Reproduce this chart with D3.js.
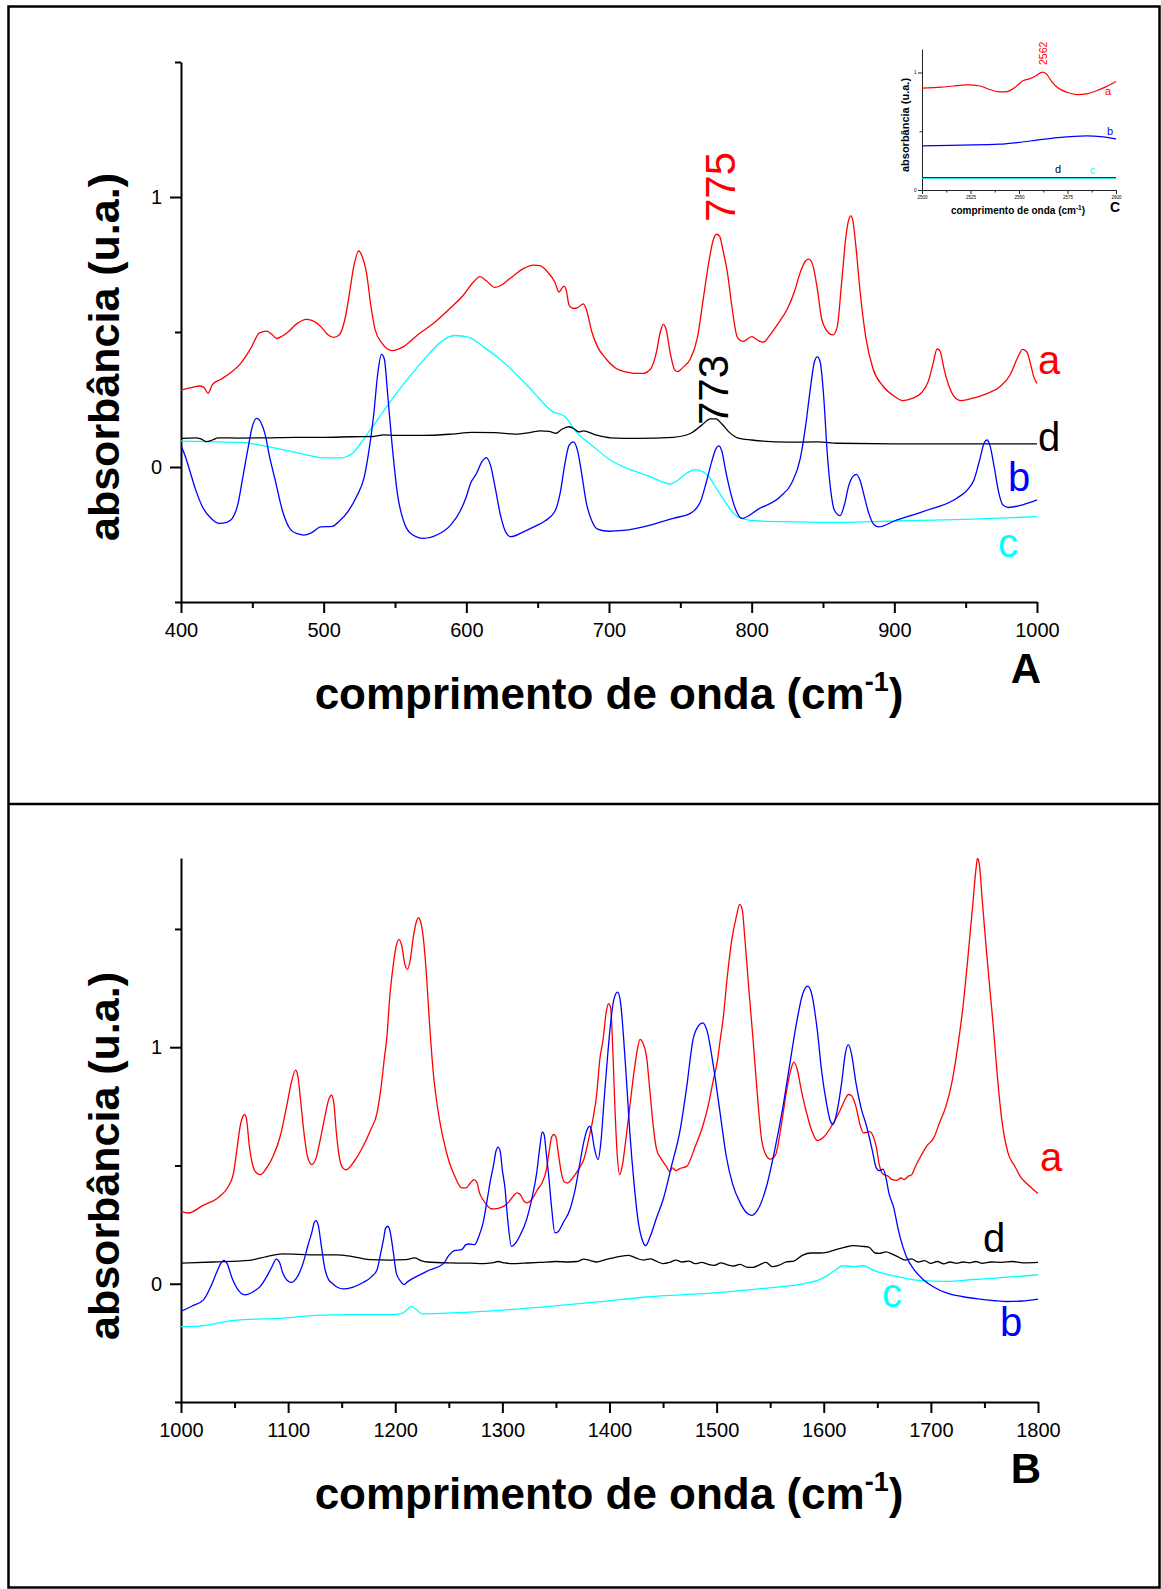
<!DOCTYPE html>
<html>
<head>
<meta charset="utf-8">
<script src="https://cdn.jsdelivr.net/npm/d3@7"></script>
<style>
  body { margin: 0; background: #fff; }
  svg { display: block; }
  text { font-family: "Liberation Sans", Arial, sans-serif; }
</style>
</head>
<body>
<svg id="fig" width="1161" height="1589"></svg>
<script>
// ---------- Panel A: 400–1000 cm-1, spectra as [wavenumber, absorbance] ----------
const specA_a = [[400,0.285],[408,0.295],[413,0.30],[416,0.295],[419,0.273],[422,0.305],[428,0.325],[435,0.35],[442,0.385],[449,0.44],[455,0.497],[460,0.503],[464,0.49],[467,0.476],[471,0.485],[475,0.50],[481,0.53],[488,0.547],[493,0.54],[498,0.52],[503,0.49],[507,0.48],[511,0.49],[515,0.55],[518,0.64],[521,0.74],[524.5,0.80],[527,0.78],[530,0.72],[533,0.60],[536,0.51],[541,0.458],[548,0.431],[556,0.446],[566,0.49],[577,0.532],[588,0.585],[598,0.637],[605,0.685],[609.5,0.705],[614,0.69],[620,0.665],[625,0.675],[631,0.70],[640,0.735],[647,0.748],[652,0.745],[657,0.722],[662,0.685],[665,0.648],[667,0.662],[668.5,0.67],[670,0.655],[672,0.60],[675,0.587],[678,0.59],[682,0.604],[684,0.585],[688,0.50],[692,0.445],[698,0.40],[705,0.365],[712,0.352],[717,0.347],[724,0.347],[729,0.362],[733,0.42],[736,0.50],[738,0.528],[740,0.51],[743,0.42],[746,0.36],[748,0.353],[752,0.37],[757,0.40],[762,0.48],[766,0.62],[770,0.76],[773,0.84],[775.5,0.862],[777.5,0.855],[780,0.80],[783,0.72],[786,0.60],[790,0.48],[794,0.465],[800,0.483],[805,0.467],[808,0.462],[813,0.49],[819,0.535],[825,0.585],[830,0.65],[834,0.72],[838,0.765],[840,0.77],[843,0.745],[846,0.66],[849,0.55],[852,0.51],[857,0.489],[860,0.52],[863,0.68],[866,0.85],[868,0.915],[869.5,0.93],[871,0.91],[873,0.82],[876,0.65],[880,0.48],[885,0.365],[892,0.30],[900,0.262],[906,0.246],[913,0.255],[919,0.275],[924,0.32],[927,0.38],[930,0.437],[932,0.43],[935,0.36],[939,0.29],[943,0.255],[947,0.246],[955,0.255],[965,0.272],[974,0.297],[981,0.34],[986,0.40],[990,0.436],[993,0.425],[996,0.37],[998,0.33],[1000,0.31]];

const specA_b = [[400,0.08],[403,0.04],[406,-0.011],[410,-0.08],[415,-0.147],[421,-0.19],[427,-0.209],[432,-0.205],[436,-0.19],[440,-0.135],[443,-0.048],[447,0.07],[450,0.15],[453,0.18],[456,0.165],[459,0.12],[462,0.04],[466,-0.048],[471,-0.16],[477,-0.233],[482,-0.248],[486,-0.252],[491,-0.245],[498,-0.222],[506,-0.22],[511,-0.2],[517,-0.165],[523,-0.11],[528.5,-0.036],[532,0.07],[535,0.19],[538,0.35],[540.5,0.417],[542.5,0.40],[545,0.26],[548,0.08],[552,-0.11],[556,-0.2],[561,-0.246],[570,-0.264],[580,-0.25],[589,-0.215],[596,-0.16],[600,-0.11],[603,-0.06],[607,-0.025],[611,0.02],[614,0.035],[617,0.005],[620,-0.07],[624,-0.18],[628,-0.245],[631,-0.258],[640,-0.24],[648,-0.22],[655,-0.2],[662,-0.165],[666,-0.09],[669,0.01],[672,0.08],[675,0.093],[678,0.06],[681,-0.03],[684,-0.13],[688,-0.2],[692,-0.23],[700,-0.238],[710,-0.235],[729,-0.215],[745,-0.19],[757,-0.172],[764,-0.13],[768,-0.06],[772,0.02],[775,0.068],[777,0.078],[779,0.06],[782,-0.02],[785,-0.09],[789,-0.16],[793,-0.19],[805,-0.155],[820,-0.11],[828,-0.06],[834,0.03],[838,0.16],[841,0.285],[844,0.39],[846,0.408],[848,0.39],[850.5,0.26],[853,0.05],[855.5,-0.09],[858,-0.16],[862,-0.18],[865,-0.14],[868,-0.07],[871,-0.035],[873.5,-0.027],[876,-0.05],[879,-0.11],[882,-0.17],[886,-0.215],[889,-0.222],[900,-0.2],[920,-0.165],[944,-0.115],[952,-0.08],[956,-0.045],[960,0.03],[963,0.09],[965,0.1],[967,0.08],[970,0.0],[973,-0.09],[976,-0.14],[980,-0.15],[990,-0.14],[1000,-0.122]];

const specA_c = [[400,0.096],[420,0.094],[443,0.091],[460,0.076],[481,0.053],[500,0.034],[512,0.034],[520,0.05],[526,0.088],[533,0.14],[541,0.2],[552,0.28],[564,0.359],[574,0.42],[581,0.458],[587,0.48],[592,0.487],[602,0.48],[612,0.445],[623,0.402],[639,0.322],[650,0.26],[656,0.225],[661,0.203],[666,0.195],[669,0.187],[673,0.16],[677,0.131],[688,0.08],[701,0.026],[715,-0.01],[729,-0.036],[737,-0.055],[742.5,-0.063],[748,-0.05],[754,-0.025],[760,-0.011],[765,-0.015],[770,-0.036],[776,-0.085],[782,-0.134],[788,-0.175],[794,-0.192],[805,-0.2],[830,-0.203],[862,-0.205],[900,-0.2],[950,-0.194],[1000,-0.184]];

const specA_d = [[400,0.106],[410,0.108],[414,0.104],[418,0.094],[422,0.10],[426,0.108],[440,0.107],[460,0.108],[480,0.110],[500,0.110],[520,0.112],[535,0.113],[542,0.119],[550,0.117],[570,0.117],[590,0.122],[604,0.128],[620,0.127],[634,0.122],[645,0.128],[652,0.134],[658,0.132],[663,0.125],[667,0.14],[672,0.149],[676,0.14],[679,0.13],[682,0.134],[690,0.12],[701,0.108],[720,0.106],[745,0.11],[757,0.124],[765,0.155],[771,0.178],[775,0.178],[779,0.16],[784,0.13],[790,0.108],[800,0.1],[826,0.092],[847,0.093],[860,0.088],[900,0.086],[1000,0.086]];

// ---------- Panel B: 1000–1800 cm-1 ----------
const specB_a = [[1000,0.306],[1007,0.299],[1020,0.33],[1036,0.369],[1044,0.41],[1049,0.468],[1052,0.56],[1055,0.66],[1058,0.71],[1059.5,0.715],[1061,0.70],[1064,0.575],[1067,0.5],[1070,0.47],[1074,0.461],[1080,0.49],[1086,0.539],[1093,0.63],[1098.6,0.75],[1103,0.85],[1107,0.903],[1109,0.88],[1112,0.76],[1115,0.63],[1118,0.54],[1122,0.504],[1126,0.53],[1130,0.609],[1134,0.70],[1138,0.78],[1140.5,0.797],[1142.5,0.77],[1145,0.64],[1148,0.53],[1151,0.49],[1154,0.482],[1162,0.52],[1170,0.581],[1177,0.65],[1183,0.722],[1187,0.84],[1190,0.96],[1192,1.033],[1195,1.22],[1198,1.343],[1201,1.43],[1203.5,1.456],[1206,1.43],[1209,1.35],[1211.5,1.329],[1214,1.37],[1217,1.47],[1220,1.535],[1221.5,1.548],[1223,1.54],[1226,1.47],[1229,1.315],[1232,1.1],[1235.5,0.892],[1240,0.73],[1245,0.609],[1250,0.52],[1256,0.45],[1262,0.405],[1266,0.405],[1270,0.425],[1273.5,0.44],[1276,0.43],[1279,0.38],[1282,0.355],[1286,0.33],[1290,0.316],[1295,0.318],[1301,0.327],[1306,0.345],[1310,0.37],[1313.5,0.384],[1317,0.375],[1320,0.35],[1323,0.342],[1328,0.36],[1333,0.40],[1337,0.426],[1341,0.48],[1344,0.57],[1346,0.62],[1348,0.631],[1350,0.62],[1352,0.56],[1355,0.47],[1358,0.43],[1361,0.426],[1366,0.45],[1372,0.49],[1376,0.525],[1381,0.62],[1385,0.708],[1388,0.80],[1391,0.95],[1394,1.033],[1397,1.15],[1399,1.184],[1401,1.17],[1403,1.0],[1405,0.75],[1407,0.56],[1409.5,0.461],[1412,0.5],[1415,0.6],[1419,0.75],[1423,0.9],[1426,0.99],[1428.5,1.033],[1431,1.02],[1434.5,0.962],[1438,0.8],[1441,0.66],[1444,0.567],[1448,0.53],[1453,0.496],[1456,0.475],[1459,0.49],[1462,0.478],[1466,0.488],[1472,0.496],[1480,0.58],[1487,0.666],[1492,0.75],[1497,0.863],[1501,0.95],[1503,1.02],[1506,1.117],[1510,1.3],[1514,1.45],[1518.5,1.554],[1521.5,1.604],[1524,1.58],[1526,1.48],[1530,1.25],[1534,1.033],[1538,0.8],[1542,0.609],[1546,0.545],[1550,0.527],[1555,0.545],[1560,0.66],[1565,0.807],[1569,0.9],[1572,0.937],[1575,0.91],[1579,0.82],[1584,0.722],[1589,0.645],[1594,0.605],[1600,0.62],[1609,0.68],[1616,0.74],[1620,0.78],[1623,0.80],[1626,0.795],[1630,0.75],[1634,0.67],[1637,0.638],[1640,0.64],[1643,0.643],[1646,0.625],[1649,0.58],[1652,0.5],[1655,0.465],[1660,0.455],[1664,0.44],[1668,0.437],[1672,0.447],[1675,0.44],[1679,0.455],[1682,0.461],[1686,0.5],[1690,0.535],[1696,0.581],[1703,0.62],[1708,0.68],[1714,0.75],[1720,0.86],[1725,1.0],[1730,1.173],[1735,1.4],[1739,1.597],[1742,1.75],[1743.5,1.798],[1745,1.78],[1748,1.62],[1752,1.4],[1756,1.2],[1758,1.103],[1762,0.88],[1766,0.7],[1772,0.553],[1778,0.5],[1784,0.45],[1789,0.426],[1794,0.405],[1800,0.381]];

const specB_b = [[1000,-0.117],[1010,-0.095],[1021,-0.068],[1028,-0.01],[1033,0.045],[1037,0.085],[1040,0.099],[1043,0.085],[1048,0.02],[1054,-0.03],[1060,-0.047],[1067,-0.035],[1074,-0.011],[1080,0.03],[1085,0.073],[1089,0.104],[1092,0.09],[1095,0.045],[1099,0.015],[1103,0.006],[1108,0.025],[1114,0.087],[1119,0.17],[1122,0.215],[1124.5,0.26],[1126,0.267],[1128,0.25],[1131,0.16],[1134,0.07],[1138,0.015],[1141,0.003],[1146,-0.015],[1151.5,-0.022],[1160,-0.015],[1170,0.005],[1178,0.03],[1183,0.059],[1186,0.12],[1189,0.186],[1191,0.235],[1193,0.243],[1195,0.225],[1198,0.14],[1201,0.045],[1205,0.01],[1208,-0.004],[1212,0.01],[1220,0.031],[1232,0.058],[1245,0.085],[1250,0.12],[1256,0.141],[1262,0.144],[1266,0.165],[1269,0.168],[1274,0.165],[1278,0.2],[1282,0.257],[1286,0.36],[1289,0.44],[1291.5,0.496],[1294,0.56],[1296,0.578],[1298,0.56],[1300,0.48],[1302.3,0.41],[1305,0.27],[1308.5,0.158],[1312,0.17],[1316,0.2],[1322.6,0.271],[1328,0.37],[1332,0.468],[1335,0.58],[1337.2,0.642],[1339,0.63],[1341,0.55],[1343,0.468],[1346,0.32],[1349,0.215],[1352,0.22],[1357,0.26],[1363,0.313],[1368,0.4],[1372,0.5],[1376,0.6],[1380,0.66],[1381.5,0.666],[1383,0.65],[1386,0.57],[1389.4,0.525],[1392,0.6],[1395,0.78],[1398,0.95],[1401,1.1],[1404,1.2],[1407.5,1.233],[1410,1.2],[1413,1.05],[1416,0.85],[1419,0.638],[1423,0.42],[1427,0.257],[1431,0.18],[1433.7,0.161],[1438,0.2],[1444,0.28],[1450,0.355],[1458,0.5],[1466,0.652],[1472,0.83],[1478,1.033],[1483,1.09],[1487,1.103],[1491,1.07],[1497,0.92],[1503,0.73],[1509,0.539],[1515,0.42],[1522,0.342],[1528,0.3],[1532.6,0.289],[1538,0.31],[1546.6,0.412],[1554,0.56],[1562,0.75],[1568,0.92],[1574.6,1.103],[1580,1.22],[1585,1.258],[1589,1.22],[1594,1.07],[1598,0.9],[1602.5,0.765],[1606,0.69],[1608.7,0.673],[1612,0.72],[1617,0.86],[1620,0.97],[1623,1.011],[1626,0.97],[1630,0.85],[1635,0.74],[1640,0.666],[1645,0.57],[1649,0.49],[1652,0.478],[1655.5,0.485],[1658,0.45],[1661,0.38],[1665,0.327],[1670,0.22],[1677,0.116],[1685,0.055],[1693,0.017],[1703,-0.015],[1714.5,-0.039],[1730,-0.055],[1745.6,-0.065],[1760,-0.072],[1770.5,-0.075],[1785,-0.073],[1800,-0.065]];

const specB_c = [[1000,-0.181],[1017,-0.179],[1049,-0.155],[1095,-0.145],[1126,-0.134],[1160,-0.131],[1195,-0.131],[1207,-0.124],[1212,-0.105],[1215,-0.096],[1219,-0.107],[1225,-0.127],[1248,-0.124],[1282,-0.117],[1344,-0.096],[1389,-0.077],[1434,-0.056],[1497,-0.039],[1543,-0.02],[1584,0.003],[1595,0.015],[1602,0.031],[1610,0.055],[1618,0.076],[1628,0.072],[1637,0.076],[1645,0.06],[1652,0.048],[1668,0.031],[1689,0.014],[1714,0.01],[1740,0.018],[1761,0.024],[1800,0.038]];

const specB_d = [[1000,0.087],[1030,0.092],[1064,0.099],[1080,0.115],[1095,0.126],[1110,0.124],[1126,0.122],[1145,0.122],[1160,0.115],[1176,0.102],[1195,0.10],[1210,0.102],[1218,0.109],[1224,0.098],[1230,0.092],[1250,0.088],[1270,0.087],[1282,0.085],[1290,0.088],[1296,0.094],[1302,0.088],[1310,0.085],[1320,0.087],[1335,0.09],[1350,0.094],[1362,0.092],[1370,0.094],[1376,0.104],[1382,0.098],[1388,0.092],[1395,0.1],[1402,0.108],[1410,0.116],[1418,0.12],[1425,0.108],[1432,0.1],[1438,0.105],[1444,0.095],[1450,0.085],[1456,0.09],[1462,0.1],[1468,0.092],[1474,0.096],[1480,0.085],[1486,0.09],[1492,0.082],[1498,0.078],[1504,0.088],[1510,0.08],[1516,0.075],[1522,0.082],[1528,0.07],[1534,0.069],[1540,0.08],[1546,0.09],[1552,0.072],[1558,0.078],[1565,0.092],[1572,0.096],[1580,0.12],[1588,0.13],[1596,0.13],[1604,0.134],[1612,0.145],[1620,0.155],[1628,0.161],[1636,0.158],[1642,0.155],[1648,0.13],[1652,0.128],[1658,0.135],[1664,0.125],[1670,0.112],[1676,0.10],[1682,0.105],[1688,0.092],[1694,0.098],[1700,0.086],[1706,0.094],[1712,0.084],[1718,0.092],[1724,0.086],[1730,0.092],[1736,0.088],[1742,0.094],[1748,0.086],[1756,0.092],[1766,0.09],[1776,0.094],[1786,0.088],[1800,0.09]];

// ---------- Inset C: 2500–2600 cm-1 ----------
const specC_a = [[2500,0.867],[2510,0.875],[2516,0.885],[2523,0.895],[2530,0.885],[2535,0.855],[2540,0.835],[2544,0.838],[2548,0.875],[2552,0.93],[2556,0.95],[2559,0.975],[2562,1.003],[2564,0.99],[2567,0.92],[2570,0.87],[2575,0.83],[2580,0.812],[2585,0.818],[2590,0.845],[2595,0.88],[2600,0.923]];
const specC_b = [[2500,0.375],[2520,0.382],[2540,0.39],[2550,0.405],[2560,0.426],[2570,0.445],[2585,0.46],[2592,0.455],[2600,0.435]];
const specC_c = [[2500,0.1],[2600,0.1]];
const specC_d = [[2500,0.105],[2600,0.105]];

// ---------- ticks, labels, colours ----------
const ticksA_x = [400,500,600,700,800,900,1000];
const ticksA_xMinor = [450,550,650,750,850,950];
const ticksB_x = [1000,1100,1200,1300,1400,1500,1600,1700,1800];
const ticksB_xMinor = [1050,1150,1250,1350,1450,1550,1650,1750];
const ticksC_x = [2500,2525,2550,2575,2600];
const ticksC_xMinor = [2512.5,2537.5,2562.5,2587.5];
const ticks_y = [0,1];
const ticks_yMinor = [-0.5,0.5,1.5];
const ticksC_yMinor = [0.5];
const seriesNames = ['a','b','c','d'];
const seriesColors = {a:'#ff0000', b:'#0000ff', c:'#00ffff', d:'#000000'};
const peakA_a = 775, peakA_d = 773, peakC_a = 2562;
const yTitle = 'absorbância (u.a.)';
const xTitle = 'comprimento de onda (cm';

const svg = d3.select('#fig');
const FONT = '"Liberation Sans", Arial, sans-serif';

// outer frame and divider between the two panels
svg.append('rect').attr('x', 8.5).attr('y', 6.5).attr('width', 1151).attr('height', 1581)
  .attr('fill', 'none').attr('stroke', '#000').attr('stroke-width', 2.5);
svg.append('line').attr('x1', 8).attr('x2', 1160).attr('y1', 804).attr('y2', 804)
  .attr('stroke', '#000').attr('stroke-width', 2.7);

function lineGen(x, y) {
  return d3.line().x(d => x(d[0])).y(d => y(d[1])).curve(d3.curveMonotoneX);
}

function drawAxes(x, y, o) {
  const y0 = y.range()[0], x0 = x.range()[0];
  const style = g => {
    g.attr('font-family', FONT).attr('font-size', o.fs);
    g.selectAll('path, line').attr('stroke', o.color).attr('stroke-width', o.sw);
    g.selectAll('text').attr('fill', '#000');
  };
  svg.append('g').attr('transform', `translate(0,${y0})`)
    .call(d3.axisBottom(x).tickValues(o.xMajor).tickSizeInner(o.major).tickSizeOuter(0)
      .tickPadding(o.padX).tickFormat(d3.format('d')))
    .call(style);
  svg.append('g').attr('transform', `translate(0,${y0})`)
    .call(d3.axisBottom(x).tickValues(o.xMinor).tickSize(o.minor).tickFormat(''))
    .call(g => g.select('.domain').remove()).call(style);
  svg.append('g').attr('transform', `translate(${x0},0)`)
    .call(d3.axisLeft(y).tickValues(o.yMajor).tickSizeInner(o.major).tickSizeOuter(0)
      .tickPadding(o.padY).tickFormat(d3.format('d')))
    .call(style);
  svg.append('g').attr('transform', `translate(${x0},0)`)
    .call(d3.axisLeft(y).tickValues(o.yMinor).tickSize(o.minor).tickFormat(''))
    .call(g => g.select('.domain').remove()).call(style);
}

function drawSeries(x, y, specs, sw) {
  const gen = lineGen(x, y);
  specs.forEach(([data, name]) => {
    svg.append('path').datum(data).attr('d', gen).attr('fill', 'none')
      .attr('stroke', seriesColors[name]).attr('stroke-width', sw)
      .attr('stroke-linejoin', 'round');
  });
}

function label(txt, x, y, size, color, opts = {}) {
  const t = svg.append('text').attr('x', x).attr('y', y).attr('font-size', size)
    .attr('fill', color).attr('font-weight', opts.bold ? 'bold' : 'normal')
    .attr('text-anchor', opts.anchor || 'start').text(txt);
  if (opts.rotate) t.attr('x', 0).attr('y', 0).attr('transform', `translate(${x},${y}) rotate(-90)`);
  return t;
}

function xTitleText(cx, baseline, size, supSize, rise) {
  const t = svg.append('text').attr('x', cx).attr('y', baseline).attr('font-size', size)
    .attr('font-weight', 'bold').attr('text-anchor', 'middle').attr('fill', '#000');
  t.append('tspan').text(xTitle);
  t.append('tspan').attr('dy', -rise).attr('font-size', supSize).text('-1');
  t.append('tspan').attr('dy', rise).text(')');
}

const mainAxis = {major: 11, minor: 6, sw: 2, fs: 20, padX: 10, padY: 8, color: '#000'};

// ---------- Panel A ----------
const xA = d3.scaleLinear().domain([400, 1000]).range([181, 1037]);
const yA = d3.scaleLinear().domain([-0.5, 1.5]).range([602, 62]);
drawAxes(xA, yA, {...mainAxis, xMajor: ticksA_x, xMinor: ticksA_xMinor, yMajor: ticks_y, yMinor: ticks_yMinor});
drawSeries(xA, yA, [[specA_a,'a'],[specA_c,'c'],[specA_d,'d'],[specA_b,'b']], 1.3);

label(String(peakA_a), 735, 222, 42, seriesColors.a, {rotate: true});
label(String(peakA_d), 728, 425, 42, seriesColors.d, {rotate: true});
label('a', 1038, 374, 40, seriesColors.a);
label('d', 1038, 451, 40, seriesColors.d);
label('b', 1008, 491, 40, seriesColors.b);
label('c', 998, 557, 40, seriesColors.c);

label(yTitle, 119, 357, 43, '#000', {rotate: true, bold: true, anchor: 'middle'});
xTitleText(609, 709, 44, 27, 18);
label('A', 1026, 683, 42, '#000', {bold: true, anchor: 'middle'});

// ---------- Panel B ----------
const xB = d3.scaleLinear().domain([1000, 1800]).range([181, 1038]);
const yB = d3.scaleLinear().domain([-0.5, 1.8]).range([1402, 858]);
drawAxes(xB, yB, {...mainAxis, xMajor: ticksB_x, xMinor: ticksB_xMinor, yMajor: ticks_y, yMinor: ticks_yMinor});
drawSeries(xB, yB, [[specB_a,'a'],[specB_c,'c'],[specB_d,'d'],[specB_b,'b']], 1.3);

label('a', 1040, 1171, 40, seriesColors.a);
label('d', 983, 1252, 40, seriesColors.d);
label('c', 882, 1307, 40, seriesColors.c);
label('b', 1000, 1336, 40, seriesColors.b);

label(yTitle, 119, 1156, 43, '#000', {rotate: true, bold: true, anchor: 'middle'});
xTitleText(609, 1509, 44, 27, 18);
label('B', 1026, 1483, 42, '#000', {bold: true, anchor: 'middle'});

// ---------- Inset C ----------
const xC = d3.scaleLinear().domain([2500, 2600]).range([922, 1116]);
const yC = d3.scaleLinear().domain([0, 1.2]).range([190, 49]);
drawAxes(xC, yC, {major: 4, minor: 2.5, sw: 1, fs: 4.6, padX: 1.5, padY: 1.5, color: '#222',
  xMajor: ticksC_x, xMinor: ticksC_xMinor, yMajor: ticks_y, yMinor: ticksC_yMinor});
drawSeries(xC, yC, [[specC_a,'a'],[specC_b,'b'],[specC_d,'d'],[specC_c,'c']], 1.2);

label(String(peakC_a), 1047, 65, 10.5, seriesColors.a, {rotate: true});
label('a', 1105, 95, 11, seriesColors.a);
label('b', 1107, 135, 11, seriesColors.b);
label('d', 1055, 172.5, 11, seriesColors.d);
label('c', 1090, 174, 11, seriesColors.c);
label(yTitle, 909, 125, 11, '#000', {rotate: true, bold: true, anchor: 'middle'});
xTitleText(1018, 214, 10, 6.5, 4);
label('C', 1110, 211.5, 14, '#000', {bold: true});
</script>
</body>
</html>
